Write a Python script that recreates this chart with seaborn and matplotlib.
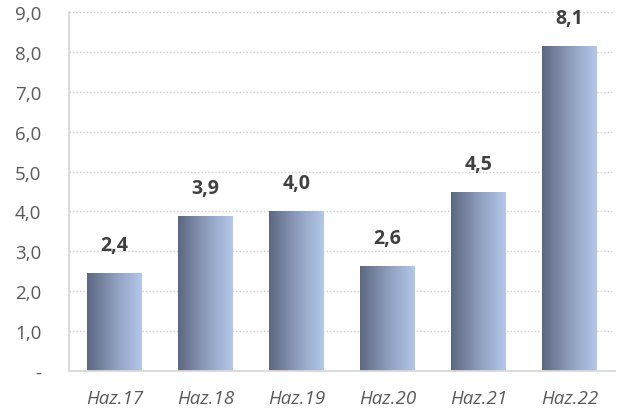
import numpy as np
import pandas as pd
import seaborn as sns
import matplotlib.pyplot as plt
from matplotlib.colors import LinearSegmentedColormap
from matplotlib.ticker import FuncFormatter, FixedLocator

categories = ['Haz.17', 'Haz.18', 'Haz.19', 'Haz.20', 'Haz.21', 'Haz.22']
values = [2.45, 3.88, 4.01, 2.63, 4.49, 8.14]
labels = ['2,4', '3,9', '4,0', '2,6', '4,5', '8,1']

df = pd.DataFrame({'donem': categories, 'deger': values})

sns.set_style('white')
plt.rcParams['font.family'] = ['Open Sans', 'DejaVu Sans']

fig = plt.figure(figsize=(6.17, 4.14), dpi=100)
ax = fig.add_axes([0.112, 0.101, 0.885, 0.868])

sns.barplot(data=df, x='donem', y='deger', width=0.6, color='#8896b4', ax=ax, zorder=2)

# yatay gradyan: koyu gri-mavi -> acik mavi
cmap = LinearSegmentedColormap.from_list('grad', ['#5c6780', '#8d9cbb', '#b4c8ea'])
grad = np.linspace(0, 1, 256).reshape(1, -1)
for p in ax.patches:
    x0, y0 = p.get_x(), p.get_y()
    w, h = p.get_width(), p.get_height()
    p.set_facecolor('none')
    p.set_edgecolor('none')
    im = ax.imshow(grad, cmap=cmap, aspect='auto', extent=[x0, x0 + w, y0, y0 + h],
                   zorder=2, interpolation='bicubic')
    im.set_clip_path(p)

ax.bar_label(ax.containers[0], labels=labels, padding=13, fontsize=14,
             fontweight='bold', color='#404040')

ax.set_xlim(-0.5, 5.5)
ax.set_ylim(0, 9)
ax.set_yticks(np.arange(0, 10, 1))
ax.yaxis.set_major_formatter(FuncFormatter(lambda v, pos: '-' if v == 0 else f'{v:.1f}'.replace('.', ',')))
ax.grid(axis='y', linestyle=(0, (1, 1.5)), color='#cccccc', linewidth=1, zorder=0)
ax.set_axisbelow(True)

ax.set_xlabel('')
ax.set_ylabel('')
for s in ['top', 'right']:
    ax.spines[s].set_visible(False)
for s in ['left', 'bottom']:
    ax.spines[s].set_color('#d9d9d9')
    ax.spines[s].set_linewidth(1.3)

ax.tick_params(axis='y', length=5, color='#d9d9d9', width=1.3, pad=15, labelsize=13.5, labelcolor='#595959')
ax.tick_params(axis='x', which='major', length=0, pad=13, labelsize=13.5, labelcolor='#595959')
for t in ax.get_xticklabels():
    t.set_fontstyle('italic')
ax.xaxis.set_minor_locator(FixedLocator(np.arange(-0.5, 6, 1)))
ax.tick_params(axis='x', which='minor', length=6, color='#d9d9d9', width=1.3)

fig.savefig('out.png', dpi=100)
